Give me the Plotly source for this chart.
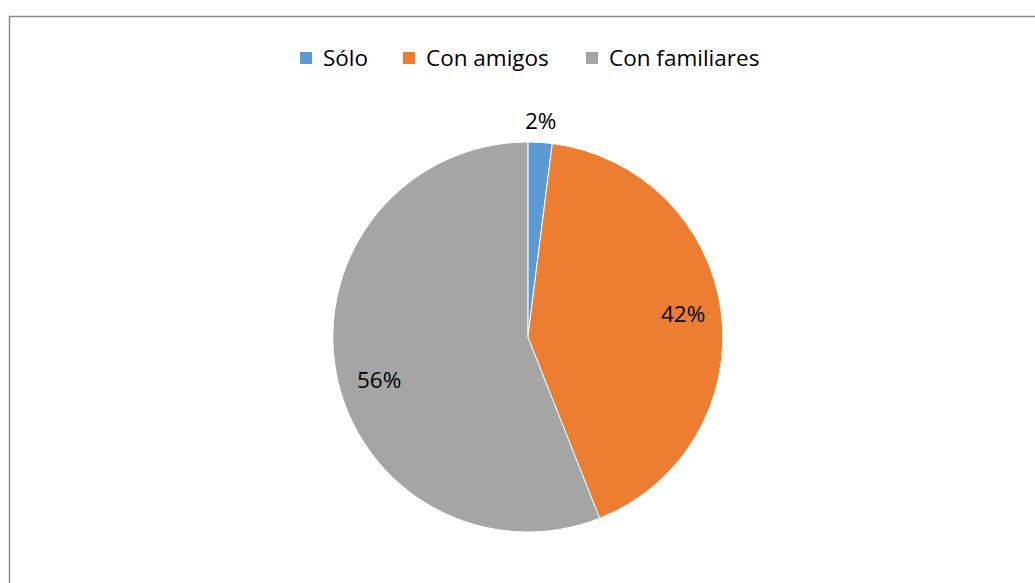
import math
import plotly.graph_objects as go

# Survey answers: who the respondent goes with
categories = ["Sólo", "Con amigos", "Con familiares"]
values = [2, 42, 56]
colors = ["#5B9BD5", "#ED7D31", "#A5A5A5"]

W, H = 1035, 583
cx, cy, R = 528.5, 337.0, 195.0  # pie centre and radius in pixels
FONT = "Open Sans, Lato, sans-serif"
FSIZE = 22.5

# Small per-label pixel offsets ("best fit" style placement)
label_nudge = [(-2, 0), (0, -4), (4, 13)]


def px_x(x):
    return x / W


def px_y(y):
    return 1 - y / H


fig = go.Figure(
    go.Pie(
        labels=categories,
        values=values,
        sort=False,
        direction="clockwise",
        rotation=0,
        marker=dict(colors=colors, line=dict(color="white", width=1)),
        textinfo="none",
        hoverinfo="label+percent",
        showlegend=False,
        domain=dict(x=[0.2, 0.82], y=[px_y(cy + R), px_y(cy - R)]),
    )
)

annotations = []
shapes = []

# Percentage labels placed along each slice's mid-angle
total = sum(values)
cum = 0.0
for v, (dx, dy) in zip(values, label_nudge):
    frac = v / total
    mid = (cum + frac / 2) * 2 * math.pi
    cum += frac
    r = R + 22 if frac < 0.05 else 0.8 * R
    annotations.append(
        dict(
            x=px_x(cx + r * math.sin(mid) + dx),
            y=px_y(cy - r * math.cos(mid) + dy),
            xref="paper",
            yref="paper",
            text=f"{round(frac * 100)}%",
            showarrow=False,
            font=dict(family=FONT, size=FSIZE, color="#000000"),
            xanchor="center",
            yanchor="middle",
        )
    )

# Legend row across the top: colour square followed by the category name
legend_left = [300, 403, 586]
legend_cy = 58
sq = 12
for x0, cat, col in zip(legend_left, categories, colors):
    shapes.append(
        dict(
            type="rect",
            xref="paper",
            yref="paper",
            x0=px_x(x0),
            x1=px_x(x0 + sq),
            y0=px_y(legend_cy + sq / 2),
            y1=px_y(legend_cy - sq / 2),
            line=dict(width=0),
            fillcolor=col,
        )
    )
    annotations.append(
        dict(
            x=px_x(x0 + sq + 9),
            y=px_y(legend_cy - 1),
            xref="paper",
            yref="paper",
            text=cat,
            showarrow=False,
            font=dict(family=FONT, size=FSIZE, color="#000000"),
            xanchor="left",
            yanchor="middle",
        )
    )

# Chart-area frame
shapes.append(
    dict(
        type="rect",
        xref="paper",
        yref="paper",
        x0=px_x(9.5),
        x1=1.05,
        y0=-0.05,
        y1=px_y(16.5),
        line=dict(color="#8C8C8C", width=1.5),
        fillcolor="rgba(0,0,0,0)",
    )
)

fig.update_layout(
    width=W,
    height=H,
    margin=dict(l=0, r=0, t=0, b=0),
    paper_bgcolor="white",
    plot_bgcolor="white",
    font=dict(family=FONT, size=FSIZE, color="#000000"),
    annotations=annotations,
    shapes=shapes,
)

fig.write_html("out.html")
